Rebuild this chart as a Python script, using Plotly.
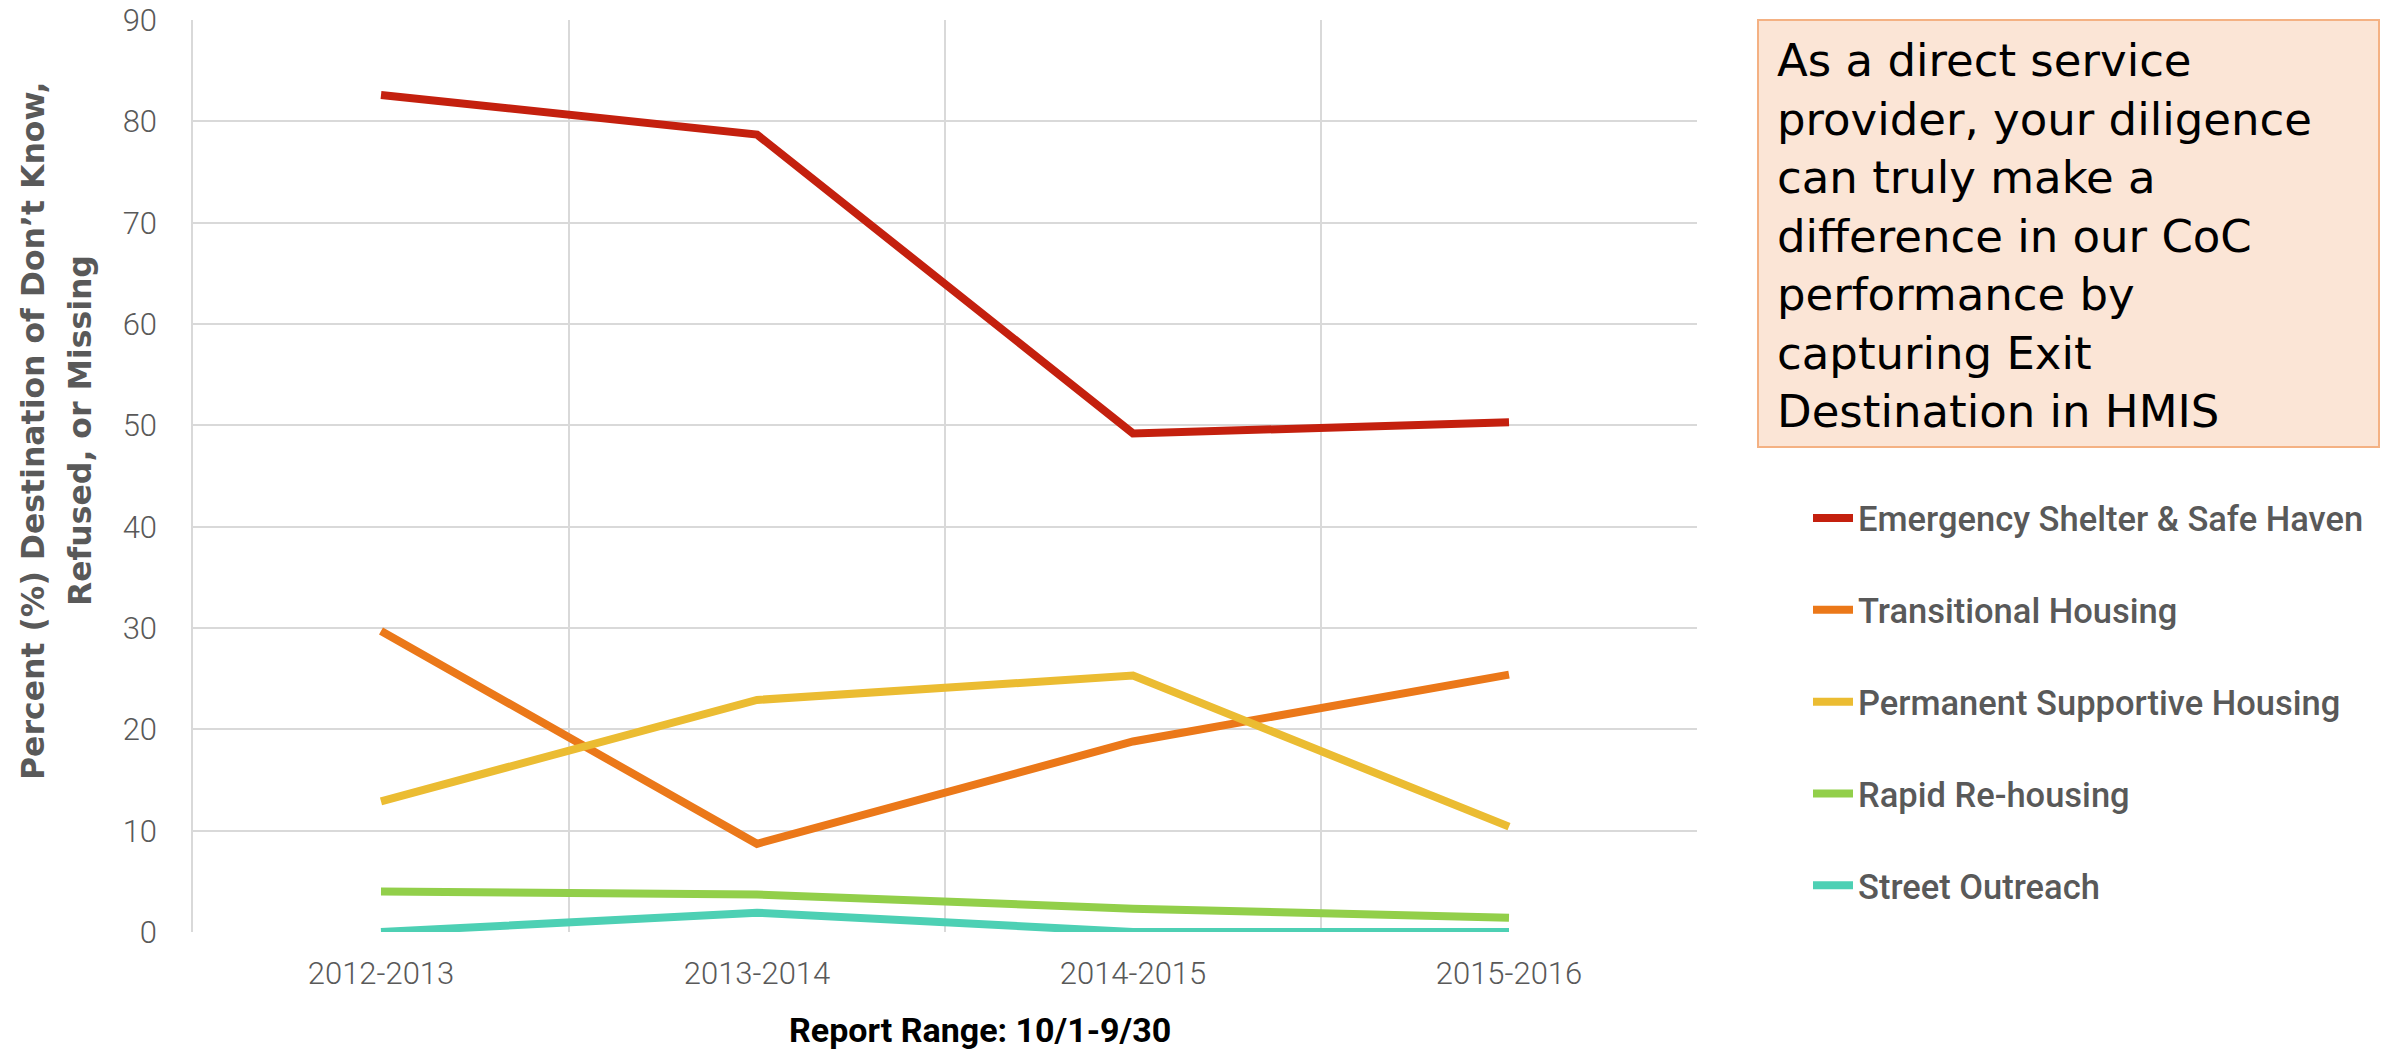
import plotly.graph_objects as go

categories = ["2012-2013", "2013-2014", "2014-2015", "2015-2016"]
series_names = [
    "Emergency Shelter & Safe Haven",
    "Transitional Housing",
    "Permanent Supportive Housing",
    "Rapid Re-housing",
    "Street Outreach",
]
es_values = [82.6, 78.7, 49.2, 50.3]
th_values = [29.7, 8.7, 18.8, 25.4]
psh_values = [12.9, 22.9, 25.3, 10.4]
rrh_values = [4.0, 3.7, 2.3, 1.4]
so_values = [0.0, 1.9, 0.0, 0.0]
y_ticks = [0, 10, 20, 30, 40, 50, 60, 70, 80, 90]
colors = ["#c4200e", "#eb7819", "#ebbc32", "#92cf4a", "#4dd0b4"]
y_title_lines = ["Percent (%) Destination of Don\u2019t Know,", "Refused, or Missing"]
x_title = "Report Range: 10/1-9/30"
box_lines = [
    "As a direct service",
    "provider, your diligence",
    "can truly make a",
    "difference in our CoC",
    "performance by",
    "capturing Exit",
    "Destination in HMIS",
]

W, H = 2399, 1054
L, R, T, B = 193, 1697, 20, 932
pw, ph = R - L, B - T


def px(x):
    return (x - L) / pw


def py(y):
    return (B - y) / ph


fig = go.Figure()
all_values = [es_values, th_values, psh_values, rrh_values, so_values]
for i, (name, vals, col) in enumerate(zip(series_names, all_values, colors)):
    fig.add_trace(go.Scatter(
        x=categories, y=vals, mode="lines", name=name,
        line=dict(color=col, width=8),
        legendgroup=f"g{i}",
    ))

tick_font = dict(family="Roboto, sans-serif", size=31, color="#595959", weight=300)

fig.update_layout(
    width=W, height=H,
    margin=dict(l=L, r=W - R, t=T, b=H - B, autoexpand=False),
    paper_bgcolor="white", plot_bgcolor="white",
    showlegend=True,
    legend=dict(
        xref="container", yref="container",
        x=1808 / W, y=1 - 489 / H, xanchor="left", yanchor="top",
        font=dict(family="Roboto, sans-serif", size=34.5, color="#595959", weight=500),
        tracegroupgap=44, itemwidth=40, bgcolor="rgba(0,0,0,0)",
    ),
    xaxis=dict(
        type="category", categoryorder="array", categoryarray=categories,
        range=[-0.5, 3.5], tickson="boundaries",
        showgrid=True, gridcolor="#d9d9d9", gridwidth=1.5,
        ticks="", tickfont=tick_font, showline=False, zeroline=False,
        ticklabelstandoff=20, automargin=False,
    ),
    yaxis=dict(
        range=[0, 90], tickvals=y_ticks,
        showgrid=True, gridcolor="#d9d9d9", gridwidth=1.5,
        tickfont=tick_font, zeroline=False, ticks="",
        showline=True, linecolor="#d9d9d9", linewidth=1.5,
        ticklabelstandoff=28, automargin=False,
    ),
)

# Y axis title (two lines, centred on the same point)
for line_text, xc in zip(y_title_lines, [33, 80]):
    fig.add_annotation(
        xref="paper", yref="paper", x=px(xc), y=py(431),
        text=line_text, textangle=-90, showarrow=False,
        xanchor="center", yanchor="middle",
        font=dict(family="DejaVu Sans, sans-serif", size=31.5, color="#595959", weight="bold"),
    )

# X axis title
fig.add_annotation(
    xref="paper", yref="paper", x=px(980), y=py(1030),
    text=x_title, showarrow=False,
    xanchor="center", yanchor="middle",
    font=dict(family="Roboto, sans-serif", size=34, color="#000000", weight="bold"),
)

# Text box
fig.add_shape(
    type="rect", xref="paper", yref="paper",
    x0=px(1758), x1=px(2379), y0=py(447), y1=py(20),
    fillcolor="#fbe5d6", line=dict(color="#f4b183", width=2), layer="below",
)
fig.add_annotation(
    xref="paper", yref="paper", x=px(1775), y=py(32),
    xanchor="left", yanchor="top", align="left", showarrow=False,
    text="<br>".join(box_lines),
    font=dict(family="DejaVu Sans, sans-serif", size=45, color="#000000"),
)

fig.write_html(
    "out.html",
    config={"displayModeBar": False},
    post_script="document.body.style.margin='0';document.body.style.overflow='hidden';",
)
